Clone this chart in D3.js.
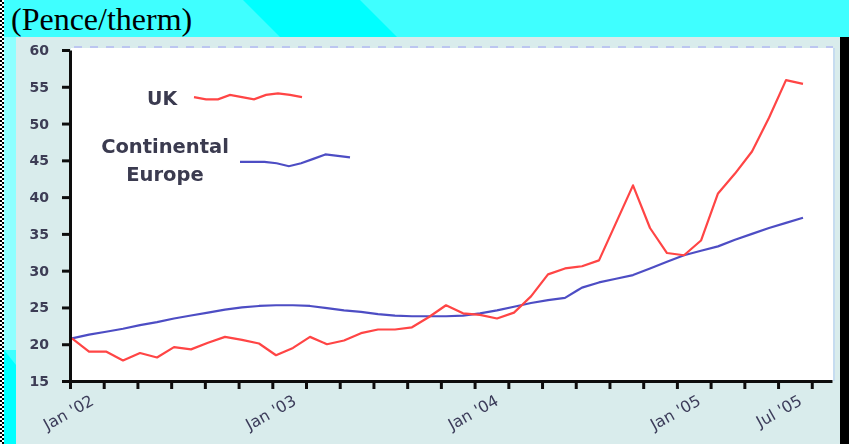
<!DOCTYPE html>
<html>
<head>
<meta charset="utf-8">
<script src="https://cdn.jsdelivr.net/npm/d3@7"></script>
<style>
  html, body { margin: 0; padding: 0; background: #3fffff; }
  svg { display: block; }
</style>
</head>
<body>
<svg id="chart" width="849" height="444"></svg>
<script>
// ---------------- data ----------------
// monthly gas prices, pence/therm, Jan 2002 .. Aug 2005
const ukValues = [
  20.8, 19.0, 19.0, 17.8, 18.8, 18.2, 19.6, 19.3, 20.2, 21.0,
  20.6, 20.1, 18.5, 19.5, 21.0, 20.0, 20.5, 21.5, 22.0, 22.0,
  22.3, 23.7, 25.3, 24.2, 24.0, 23.5, 24.3, 26.5, 29.5, 30.3,
  30.6, 31.4, 36.5, 41.6, 35.8, 32.4, 32.1, 34.1, 40.5, 43.2,
  46.2, 50.8, 55.9, 55.4
];
const europeValues = [
  20.8, 21.3, 21.7, 22.1, 22.6, 23.0, 23.5, 23.9, 24.3, 24.7,
  25.0, 25.2, 25.3, 25.3, 25.2, 24.9, 24.6, 24.4, 24.1, 23.9,
  23.8, 23.8, 23.8, 23.9, 24.2, 24.6, 25.1, 25.6, 26.0, 26.3,
  27.7, 28.4, 28.9, 29.4, 30.3, 31.2, 32.1, 32.7, 33.3, 34.2,
  35.0, 35.8, 36.5, 37.2
];
const yTicks = [15, 20, 25, 30, 35, 40, 45, 50, 55, 60];
const xTickMonths = d3.range(0, 45, 2);          // bimonthly tick marks
const xLabelMonths = [0, 12, 24, 36, 42];
const xLabels = ["Jan '02", "Jan '03", "Jan '04", "Jan '05", "Jul '05"];
const seriesNames = ["UK", "Continental Europe"];
// little squiggles used as legend keys (values on the price scale)
const ukKey = [53.6, 53.3, 53.3, 53.9, 53.6, 53.3, 53.9, 54.1, 53.9, 53.6];
const europeKey = [44.8, 44.8, 44.8, 44.6, 44.2, 44.6, 45.2, 45.8, 45.6, 45.4];

// ---------------- drawing ----------------
const svg = d3.select("#chart");
const defs = svg.append("defs");
defs.append("filter").attr("id", "soft").attr("x", "-5%").attr("y", "-5%").attr("width", "110%").attr("height", "110%")
  .append("feGaussianBlur").attr("stdDeviation", 0.5);

// background: cyan with a diagonal band
svg.append("rect").attr("width", 849).attr("height", 444).attr("fill", "#3fffff");
svg.append("polygon").attr("points", "243,0 360,0 404,44 287,44").attr("fill", "#00ffff");
svg.append("rect").attr("x", 4).attr("y", 37).attr("width", 12).attr("height", 313).attr("fill", "#8effff");
svg.append("polygon").attr("points", "4,350 16,365 16,444 4,444").attr("fill", "#00ffff");

// dotted left border
const pat = defs.append("pattern").attr("id", "dots").attr("width", 4).attr("height", 4)
  .attr("patternUnits", "userSpaceOnUse");
pat.append("rect").attr("width", 4).attr("height", 4).attr("fill", "#ffffff");
pat.append("rect").attr("width", 2).attr("height", 2).attr("fill", "#000");
pat.append("rect").attr("x", 2).attr("y", 2).attr("width", 2).attr("height", 2).attr("fill", "#000");
svg.append("rect").attr("x", 0).attr("y", 0).attr("width", 4).attr("height", 444).attr("fill", "url(#dots)");

// panel + black right strip
svg.append("rect").attr("x", 16).attr("y", 37).attr("width", 824).attr("height", 407).attr("fill", "#d9ecec");
svg.append("rect").attr("x", 840).attr("y", 37).attr("width", 9).attr("height", 407).attr("fill", "#000");

// title
svg.append("text").attr("x", 11).attr("y", 30)
  .attr("font-family", "'Liberation Serif', 'Times New Roman', serif")
  .attr("font-size", 32).attr("fill", "#000")
  .text("(Pence/therm)");

// scales
const y = d3.scaleLinear().domain([15, 60]).range([381, 50]);
const xTick = d3.scaleLinear().domain([0, 45.2]).range([70, 832]);
const xData = d3.scaleLinear().domain([0, ukValues.length - 1]).range([72, 803]);

const chart = svg.append("g").attr("filter", "url(#soft)");

// plot area
chart.append("rect").attr("x", 71).attr("y", 48).attr("width", 762).attr("height", 333).attr("fill", "#ffffff");
chart.append("line").attr("x1", 834).attr("x2", 834).attr("y1", 48).attr("y2", 381)
  .attr("stroke", "#c6dcf0").attr("stroke-width", 2);
chart.append("line").attr("x1", 74).attr("x2", 833).attr("y1", 47).attr("y2", 47)
  .attr("stroke", "#bcc6f0").attr("stroke-width", 2).attr("stroke-dasharray", "8,8");

// series
const line = d3.line().x((d, i) => xData(i)).y(d => y(d));
chart.append("path").datum(europeValues).attr("d", line)
  .attr("fill", "none").attr("stroke", "#4e4ec4").attr("stroke-width", 2.2).attr("stroke-linejoin", "round");
chart.append("path").datum(ukValues).attr("d", line)
  .attr("fill", "none").attr("stroke", "#ff4444").attr("stroke-width", 2.2).attr("stroke-linejoin", "round");

// axes
const yAxis = d3.axisLeft(y).tickValues(yTicks).tickSize(8).tickSizeOuter(0).tickPadding(13);
const gy = chart.append("g").attr("transform", "translate(70,0)").call(yAxis);
gy.select(".domain").attr("stroke", "#111").attr("stroke-width", 3);
gy.selectAll(".tick line").attr("stroke", "#111").attr("stroke-width", 3);
gy.selectAll(".tick text")
  .attr("font-family", "'DejaVu Sans', sans-serif").attr("font-weight", "bold")
  .attr("font-size", 14).attr("fill", "#3c3c55");

const xAxis = d3.axisBottom(xTick).tickValues(xTickMonths).tickSize(8).tickSizeOuter(0).tickFormat("");
const gx = chart.append("g").attr("transform", "translate(0,381)").call(xAxis);
gx.select(".domain").attr("stroke", "#111").attr("stroke-width", 3);
gx.selectAll(".tick line").attr("stroke", "#111").attr("stroke-width", 3);

chart.append("g").selectAll("text").data(xLabelMonths).join("text")
  .attr("transform", d => `translate(${xTick(d) + 25},${404}) rotate(-29)`)
  .attr("text-anchor", "end")
  .attr("font-family", "'DejaVu Sans', sans-serif").attr("font-size", 16)
  .attr("fill", "#3c3c5a")
  .text((d, i) => xLabels[i]);

// legend
const keyX = d3.scaleLinear().domain([0, ukKey.length - 1]);
const keyFont = "'DejaVu Sans', sans-serif";
chart.append("text").attr("x", 147).attr("y", 105)
  .attr("font-family", keyFont).attr("font-weight", "bold").attr("font-size", 19)
  .attr("fill", "#3a3a50").text(seriesNames[0]);
const ukKeyLine = d3.line().x((d, i) => keyX.range([194, 302])(i)).y(d => y(d));
chart.append("path").datum(ukKey).attr("d", ukKeyLine)
  .attr("fill", "none").attr("stroke", "#ff4444").attr("stroke-width", 2.2);

const eu = chart.append("text").attr("font-family", keyFont).attr("font-weight", "bold")
  .attr("font-size", 19.5).attr("fill", "#3a3a50").attr("text-anchor", "middle");
eu.append("tspan").attr("x", 165).attr("y", 153).text("Continental");
eu.append("tspan").attr("x", 165).attr("y", 181).text("Europe");
const euKeyLine = d3.line().x((d, i) => keyX.range([240, 350])(i)).y(d => y(d));
chart.append("path").datum(europeKey).attr("d", euKeyLine)
  .attr("fill", "none").attr("stroke", "#4e4ec4").attr("stroke-width", 2.2);
</script>
</body>
</html>
